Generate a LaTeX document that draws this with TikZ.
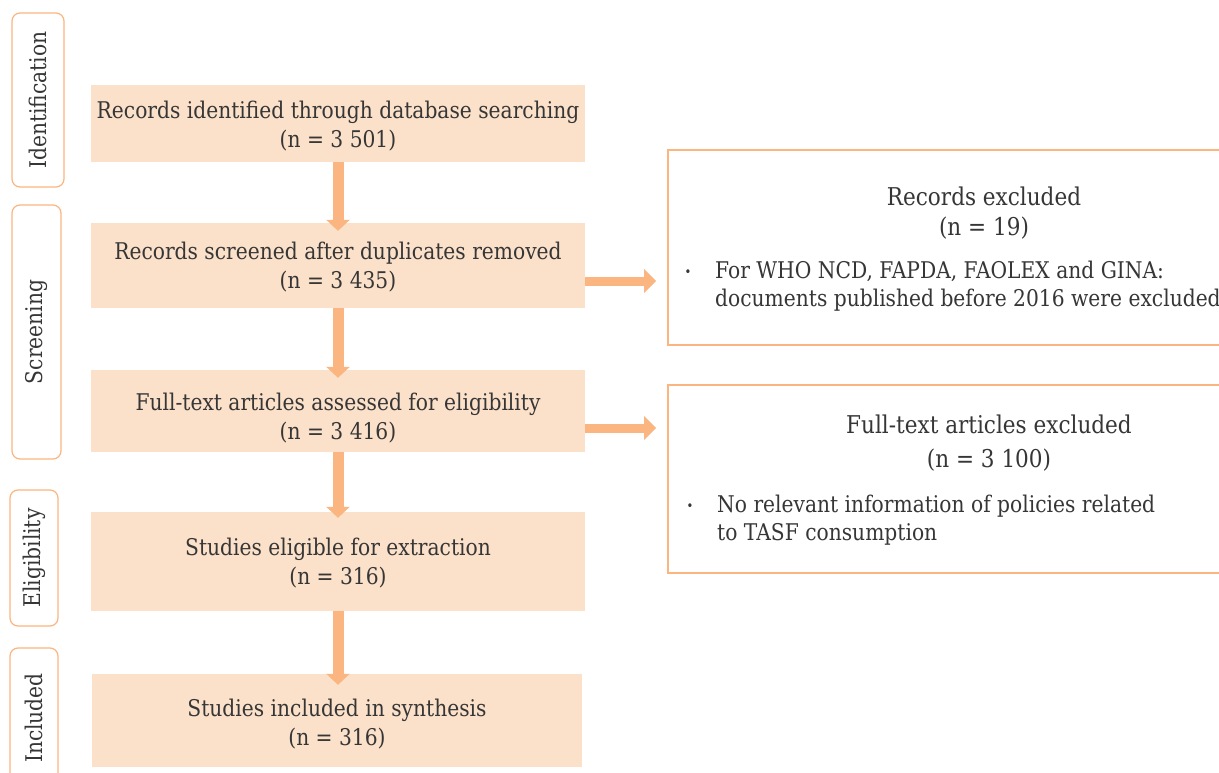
\documentclass[tikz,border=0pt]{standalone}
\usepackage{fontspec}
\setmainfont{DejaVu Serif}[FakeStretch=0.88]
\usetikzlibrary{arrows.meta}
\definecolor{peach}{HTML}{FCE1CA}
\definecolor{orng}{HTML}{FAB580}
\definecolor{txt}{HTML}{363636}
\newcommand\mfnt{\fontsize{23pt}{29pt}\selectfont}
\newcommand\tfnt{\fontsize{24.5pt}{30pt}\selectfont}
\tikzset{
  mainbox/.style={fill=peach, draw=none, minimum width=494pt, inner sep=0pt},
  maintext/.style={align=center, text=txt, inner sep=0pt, font=\mfnt},
  stagebox/.style={draw=orng, line width=1.2pt, rounded corners=8pt, fill=white, rotate=90, text=txt, inner sep=0pt, font=\mfnt},
  exbox/.style={draw=orng, line width=1.2pt, fill=white, inner sep=0pt},
  extext/.style={text=txt, inner sep=0pt, font=\mfnt},
  extitle/.style={text=txt, inner sep=0pt, font=\tfnt},
  bul/.style={text=txt, inner sep=0pt, font=\fontsize{13pt}{15pt}\selectfont},
  darrow/.style={draw=orng, line width=11pt, -{Triangle[width=23pt,length=11pt]}},
  rarrow/.style={draw=orng, line width=9pt, -{Triangle[width=23pt,length=12pt]}},
}
\begin{document}
\begin{tikzpicture}[x=1pt,y=-1pt]
\useasboundingbox (0,0) rectangle (1219,773);
% stage labels
\node[stagebox, minimum width=174pt, minimum height=52pt] (sId) at (38,100) {Identification};
\node[stagebox, minimum width=254pt, minimum height=49pt] (sSc) at (36.5,332) {Screening};
\node[stagebox, minimum width=136pt, minimum height=48pt] (sEl) at (34,558) {Eligibility};
\node[stagebox, minimum width=140pt, minimum height=48pt] (sIn) at (34,718) {Included};
% main boxes
\node[mainbox, minimum height=77pt] (b1) at (338,123.5) {};
\node[mainbox, minimum height=85pt] (b2) at (338,265.5) {};
\node[mainbox, minimum height=82pt] (b3) at (338,411) {};
\node[mainbox, minimum height=99pt] (b4) at (338,561.5) {};
\node[mainbox, minimum height=93pt, minimum width=490pt] (b5) at (337,720.5) {};
\node[maintext] (b1t) at ([yshift=-2.5pt]b1.center) {Records identified through database searching\\(n = 3 501)};
\node[maintext] (b2t) at ([yshift=-1.5pt]b2.center) {Records screened after duplicates removed\\(n = 3 435)};
\node[maintext] (b3t) at ([yshift=-7.5pt]b3.center) {Full-text articles assessed for eligibility\\(n = 3 416)};
\node[maintext] (b4t) at ([yshift=-2pt]b4.center) {Studies eligible for extraction\\(n = 316)};
\node[maintext] (b5t) at ([yshift=-4pt]b5.center) {Studies included in synthesis\\(n = 316)};
% exclusion boxes
\node[exbox, minimum width=557pt, minimum height=195pt] (ex1) at (946.5,247.5) {};
\node[exbox, minimum width=557pt, minimum height=188pt] (ex2) at (946.5,479) {};
\node[extitle, anchor=base] (ex1t1) at (984,205) {Records excluded};
\node[extitle, anchor=base] (ex1t2) at (984,235) {(n = 19)};
\node[bul, anchor=base] (ex1b) at (688,276) {•};
\node[extext, anchor=base west] (ex1l1) at (715,278) {For WHO NCD, FAPDA, FAOLEX and GINA:};
\node[extext, anchor=base west] (ex1l2) at (715,306) {documents published before 2016 were excluded};
\node[extitle, anchor=base] (ex2t1) at (989,433) {Full-text articles excluded};
\node[extitle, anchor=base] (ex2t2) at (989,467) {(n = 3 100)};
\node[bul, anchor=base] (ex2b) at (690,510) {•};
\node[extext, anchor=base west] (ex2l1) at (717,512) {No relevant information of policies related};
\node[extext, anchor=base west] (ex2l2) at (717,540) {to TASF consumption};
% arrows
\draw[darrow] (b1.south) -- ([yshift=-8pt]b2.north);
\draw[darrow] (b2.south) -- ([yshift=-8pt]b3.north);
\draw[darrow] (b3.south) -- ([yshift=-6pt]b4.north);
\draw[darrow] (b4.south) -- ([yshift=-11pt,xshift=1pt]b5.north);
\draw[rarrow] ([yshift=-15.5pt]b2.east) -- ([yshift=-15.5pt,xshift=71pt]b2.east);
\draw[rarrow] ([yshift=-17pt]b3.east) -- ([yshift=-17pt,xshift=71pt]b3.east);
\end{tikzpicture}
\end{document}
